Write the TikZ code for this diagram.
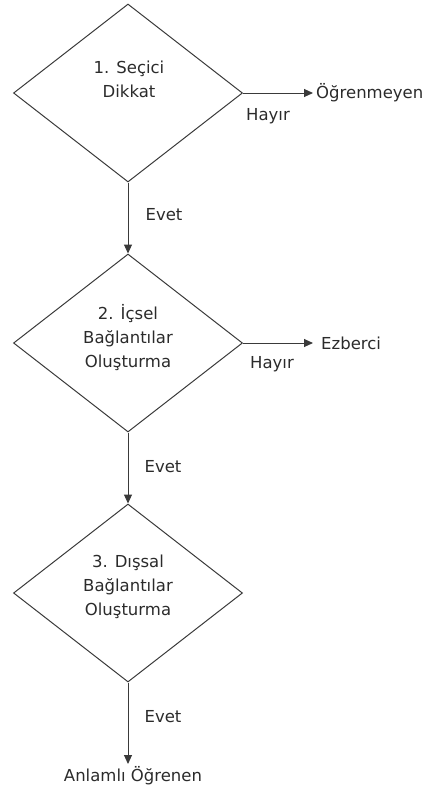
\documentclass[tikz,border=0pt]{standalone}
\usepackage{fontspec}
\setmainfont{DejaVu Sans}
\usetikzlibrary{shapes.geometric,arrows.meta}
\definecolor{txt}{HTML}{2B2B2B}
\definecolor{ln}{HTML}{3A3A3A}
\begin{document}
\begin{tikzpicture}[x=1pt,y=-1pt,
  dia/.style={draw=ln,line width=1pt,shape=diamond,minimum width=229pt,minimum height=178pt,inner sep=0pt},
  lbl/.style={text=txt,font=\fontsize{16.5}{24}\selectfont,align=center,inner sep=0pt},
  con/.style={draw=ln,line width=1pt,-{Triangle[length=9pt,width=8pt]}}]
\useasboundingbox (0,0) rectangle (430,792);
\node[dia] (d1) at (128,93) {};
\node[dia] (d2) at (128,343) {};
\node[dia] (d3) at (128,593) {};
\node[lbl] (t1) at (129,79) {1. Seçici\\Dikkat};
\node[lbl] (t2) at (128,338) {2. İçsel\\Bağlantılar\\Oluşturma};
\node[lbl] (t3) at (128,587) {3. Dışsal\\Bağlantılar\\Oluşturma};
\node[lbl,anchor=west,inner xsep=3pt] (o1) at (313,93) {Öğrenmeyen};
\node[lbl,anchor=west,inner xsep=8pt] (o2) at (313,343) {Ezberci};
\node[lbl,anchor=north,inner ysep=2pt] (o3) at (133,764) {Anlamlı Öğrenen};
\draw[con] (d1.east) -- (o1.west);
\draw[con] (d2.east) -- (o2.west);
\draw[con] (d1.south) -- (d2.north);
\draw[con] (d2.south) -- (d3.north);
\draw[con] (d3.south) -- (d3.south |- o3.north);
\node[lbl] (h1) at (268,116) {Hayır};
\node[lbl] (h2) at (272,364) {Hayır};
\node[lbl] (e1) at (164,215) {Evet};
\node[lbl] (e2) at (163,467) {Evet};
\node[lbl] (e3) at (163,717) {Evet};
\end{tikzpicture}
\end{document}
